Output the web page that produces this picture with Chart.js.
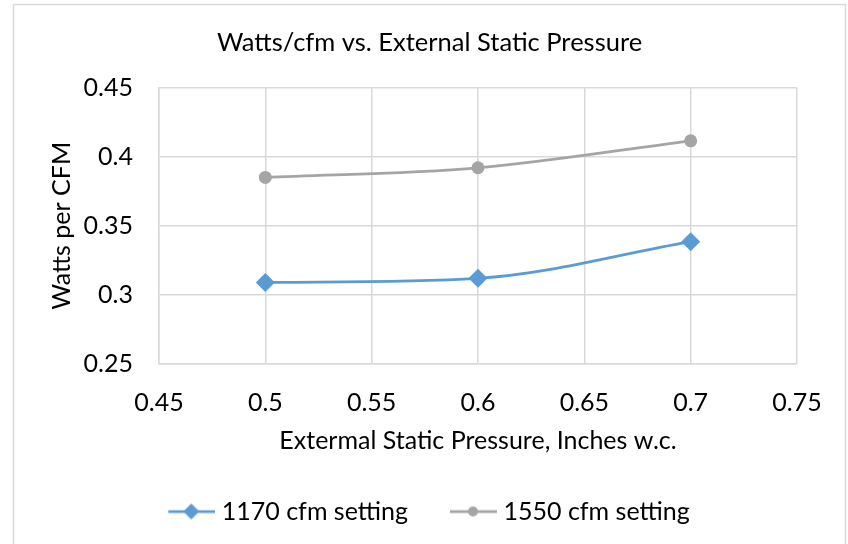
<!DOCTYPE html>
<html>
<head>
<meta charset="utf-8">
<script src="https://cdn.jsdelivr.net/npm/chart.js@4.4.0/dist/chart.umd.min.js"></script>
<style>
  html, body { margin: 0; padding: 0; background: #fff; }
  #wrap { width: 848px; height: 544px; }
</style>
</head>
<body>
<div id="wrap"><canvas id="chart" width="848" height="544"></canvas></div>
<script>
// data
var pressures = [0.5, 0.6, 0.7];
var watts1170 = [0.309, 0.312, 0.3385];
var watts1550 = [0.385, 0.392, 0.4115];
var seriesNames = ['1170 cfm setting', '1550 cfm setting'];
var xTicks = [0.45, 0.5, 0.55, 0.6, 0.65, 0.7, 0.75];
var yTicks = [0.25, 0.3, 0.35, 0.4, 0.45];

var blue = '#5b9bd5';
var gray = '#a5a5a5';
var font = 'Lato';

function toPoints(xs, ys) {
    return xs.map(function(x, i) { return { x: x, y: ys[i] }; });
}

// little legend swatch: line with a marker in the middle
function legendSwatch(color, style) {
    var c = document.createElement('canvas');
    c.width = 52; c.height = 20;
    var g = c.getContext('2d');
    g.strokeStyle = color;
    g.lineWidth = 2.75;
    g.beginPath();
    g.moveTo(5, 10); g.lineTo(52, 10);
    g.stroke();
    g.fillStyle = color;
    g.beginPath();
    if (style === 'diamond') {
        g.moveTo(28, 2); g.lineTo(36, 10); g.lineTo(28, 18); g.lineTo(20, 10);
    } else {
        g.arc(28, 10, 5, 0, Math.PI * 2);
    }
    g.closePath();
    g.fill();
    return c;
}

var frame = {
    id: 'frame',
    beforeDraw: function(chart) {
        var ctx = chart.ctx;
        ctx.save();
        ctx.fillStyle = '#fff';
        ctx.fillRect(0, 0, chart.width, chart.height);
        ctx.strokeStyle = '#d9d9d9';
        ctx.lineWidth = 1.5;
        ctx.strokeRect(13.5, 4.5, 832, 560);
        ctx.restore();
    }
};

var ctx = document.getElementById('chart').getContext('2d');
var chart = new Chart(ctx, {
    type: 'line',
    data: {
        datasets: [{
            label: seriesNames[0],
            data: toPoints(pressures, watts1170),
            borderColor: blue,
            backgroundColor: blue,
            borderWidth: 2.75,
            pointStyle: 'rectRot',
            pointRadius: 9.5,
            pointHoverRadius: 9.5,
            pointBorderWidth: 0,
            cubicInterpolationMode: 'monotone',
            fill: false
        }, {
            label: seriesNames[1],
            data: toPoints(pressures, watts1550),
            borderColor: gray,
            backgroundColor: gray,
            borderWidth: 2.75,
            pointStyle: 'circle',
            pointRadius: 6.5,
            pointHoverRadius: 6.5,
            pointBorderWidth: 0,
            cubicInterpolationMode: 'monotone',
            fill: false
        }]
    },
    options: {
        responsive: false,
        animation: false,
        layout: { padding: { left: 13, right: 2, top: 0, bottom: 10 } },
        plugins: {
            title: {
                display: true,
                text: 'Watts/cfm vs. External Static Pressure',
                color: '#000',
                font: { family: font, size: 25.5, weight: 'normal' },
                padding: { top: 27, bottom: 30 }
            },
            legend: {
                position: 'bottom',
                labels: {
                    usePointStyle: true,
                    pointStyleWidth: 40,
                    color: '#000',
                    padding: 43,
                    font: { family: font, size: 25 },
                    generateLabels: function(chart) {
                        return chart.data.datasets.map(function(ds, i) {
                            return {
                                text: ds.label,
                                pointStyle: legendSwatch(ds.borderColor, i === 0 ? 'diamond' : 'circle'),
                                fillStyle: ds.borderColor,
                                strokeStyle: ds.borderColor,
                                lineWidth: 0,
                                datasetIndex: i,
                                fontColor: '#000'
                            };
                        });
                    }
                }
            },
            tooltip: { enabled: false }
        },
        scales: {
            x: {
                type: 'linear',
                min: xTicks[0],
                max: xTicks[xTicks.length - 1],
                afterBuildTicks: function(scale) {
                    scale.ticks = xTicks.map(function(v) { return { value: v }; });
                },
                afterFit: function(scale) { scale.height = 92; },
                ticks: {
                    color: '#000',
                    padding: 24,
                    font: { family: font, size: 25 },
                    maxRotation: 0,
                    callback: function(v) { return String(+v.toFixed(2)); }
                },
                grid: { color: '#d9d9d9', lineWidth: 1.5, drawTicks: false },
                border: { color: '#d9d9d9', width: 1.5 },
                title: {
                    display: true,
                    text: 'Extermal Static Pressure, Inches w.c.',
                    color: '#000',
                    font: { family: font, size: 25 },
                    padding: { top: 0, bottom: 0 }
                }
            },
            y: {
                min: yTicks[0],
                max: yTicks[yTicks.length - 1],
                afterBuildTicks: function(scale) {
                    scale.ticks = yTicks.map(function(v) { return { value: v }; });
                },
                afterFit: function(scale) { scale.width = 146; },
                ticks: {
                    color: '#000',
                    padding: 26,
                    font: { family: font, size: 25 },
                    callback: function(v) { return String(+v.toFixed(2)); }
                },
                grid: { color: '#d9d9d9', lineWidth: 1.5, drawTicks: false },
                border: { color: '#d9d9d9', width: 1.5 },
                title: {
                    display: true,
                    text: 'Watts per CFM',
                    color: '#000',
                    font: { family: font, size: 25 },
                    padding: { top: 34, bottom: 0 }
                }
            },
            // empty right-hand axis, only holds the right margin of the plot
            yRight: {
                position: 'right',
                min: 0,
                max: 1,
                afterFit: function(scale) { scale.width = 49; },
                ticks: { display: false },
                grid: { display: false },
                border: { display: false }
            }
        }
    },
    plugins: [frame]
});
</script>
</body>
</html>
